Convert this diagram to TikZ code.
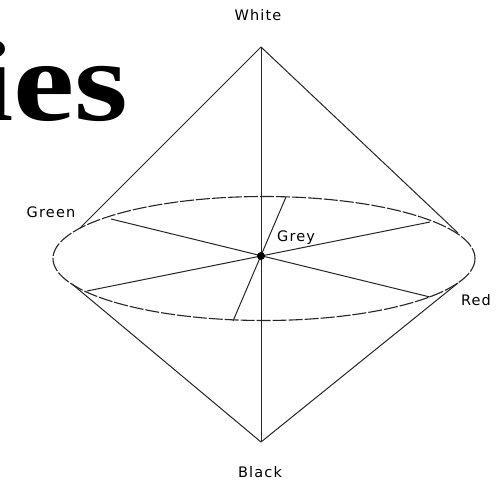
\documentclass[tikz,border=0pt]{standalone}
\usepackage{fontspec}
\newfontfamily\titlefont{Liberation Serif}[FakeStretch=1.2]
\newfontfamily\labfont{DejaVu Sans}[LetterSpace=8]
\begin{document}
\begin{tikzpicture}[x=1pt,y=-1pt,
  lab/.style={font=\labfont\fontsize{14.5}{14.5}\selectfont, inner sep=0pt},
  edge/.style={line width=1pt, black!85},
  ell/.style={line width=1.1pt, black!85, dash pattern=on 14pt off 2pt}]
\useasboundingbox[fill=white] (0,0) rectangle (501,485);
\begin{scope}
\clip (0,0) rectangle (501,485);
\node[anchor=base west, inner sep=0pt, font=\titlefont\bfseries\fontsize{115}{115}\selectfont] (title) at (-25,120) {ies};
\end{scope}
% points
\coordinate (W) at (261,47);
\coordinate (B) at (261,442);
\coordinate (C) at (261,256);
\coordinate (tl) at (80,228);
\coordinate (tr) at (458,233);
\coordinate (bl) at (72,284);
\coordinate (br) at (458,283);
\coordinate (s1a) at (111,219);
\coordinate (s1b) at (430,297);
\coordinate (s2a) at (430,222);
\coordinate (s2b) at (87,291);
\coordinate (s3a) at (286,197);
\coordinate (s3b) at (233,321);
% ellipse
\draw[ell] (264,258.5) ellipse [x radius=211, y radius=62];
% cone
\draw[edge] (W) -- (tl);
\draw[edge] (W) -- (tr);
\draw[edge] (B) -- (bl);
\draw[edge] (B) -- (br);
\draw[edge] (W) -- (B);
% spokes
\draw[edge] (s1a) -- (s1b);
\draw[edge] (s2a) -- (s2b);
\draw[edge] (s3a) -- (s3b);
\fill (C) circle (4);
% labels
\node[lab] (white) at (258,15) {White};
\node[lab] (black) at (260,472) {Black};
\node[lab] (green) at (51,212) {Green};
\node[lab] (red) at (476,300) {Red};
\node[lab, anchor=base west] (grey) at (277,241) {Grey};
\end{tikzpicture}
\end{document}
